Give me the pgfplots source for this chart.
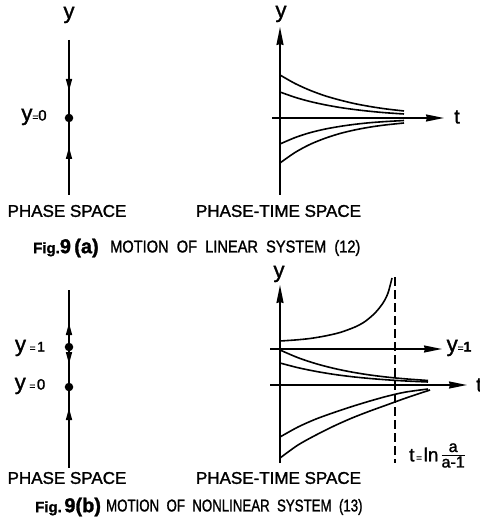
\documentclass[border=0pt]{standalone}
\usepackage{pgfplots}
\pgfplotsset{compat=1.18}
\usepackage{fontspec}
\setmainfont{Liberation Sans}[FakeBold=1.5]
\usetikzlibrary{arrows.meta}
\newcommand\fs[1]{\fontsize{#1}{#1}\selectfont}
\tikzset{
  ar/.style={-{Stealth[length=18pt,width=7pt,inset=1pt]}},
  mid/.style={-{Triangle[length=12pt,width=6pt]}},
}

\begin{document}
\begin{tikzpicture}
\begin{axis}[
  scale only axis, width=479pt, height=529pt,
  xmin=0, xmax=479, ymin=0, ymax=529, y dir=reverse,
  axis lines=none, clip=false,
  every axis plot/.append style={black, line width=1.6pt},
]
% ---------- (a) phase space ----------
\addplot[no marks] coordinates {(69,40) (69,195)};
\addplot[mid] coordinates {(69,74) (69,91)};
\addplot[mid] coordinates {(69,164) (69,147)};
\addplot[only marks, mark=*, mark size=3.4pt] coordinates {(69,118)};
\node at (69,15) {\fs{22}y};
\node at (34,117) {\fs{22}y\fs{10}=\fs{15}0};
\node at (67,211) {\fs{17}PHASE SPACE};

% ---------- (a) phase-time space ----------
\addplot[ar] coordinates {(280,195) (280,27)};
\addplot[ar] coordinates {(272,118) (444,118)};
\addplot[smooth] coordinates {(280,75) (295,83.5) (310,90.3) (325,95.8) (340,100.1) (355,103.7) (370,106.5) (385,108.8) (404,111)};
\addplot[smooth] coordinates {(280,92) (295,97.3) (310,101.5) (325,104.8) (340,107.5) (355,109.6) (370,111.3) (385,112.7) (404,114)};
\addplot[smooth] coordinates {(280,144) (295,137.6) (310,132.7) (325,129.1) (340,126.4) (355,124.3) (370,122.7) (385,121.6) (404,120.5)};
\addplot[smooth] coordinates {(280,163) (295,152.5) (310,144.4) (325,138.3) (340,133.5) (355,129.9) (370,127.1) (385,125) (404,123)};
\node at (281,14) {\fs{22}y};
\node at (457,117) {\fs{20}t};
\node at (278.5,211) {\fs{17}PHASE-TIME SPACE};

\node[anchor=west, inner sep=0pt] at (33,248) {\bfseries\fs{15}Fig.\fs{20}9\,(a)};
\node[anchor=west, inner sep=0pt, xscale=0.86] at (110,248) {\fs{17}MOTION\ \ OF\ \ LINEAR\ \ SYSTEM\ \ (12)};

% ---------- (b) phase space ----------
\addplot[no marks] coordinates {(69,290) (69,468)};
\addplot[mid] coordinates {(69,340) (69,323)};
\addplot[mid] coordinates {(69,351) (69,364)};
\addplot[mid] coordinates {(69,425) (69,408)};
\addplot[only marks, mark=*, mark size=3.4pt] coordinates {(69,347) (69,387)};
\node at (30,348) {\fs{22}y\,\fs{10}=\,\fs{14}1};
\node at (30,386) {\fs{22}y\,\fs{10}=\,\fs{15}0};
\node at (67,478) {\fs{17}PHASE SPACE};

% ---------- (b) phase-time space ----------
\addplot[ar] coordinates {(280,463) (280,285)};
\addplot[ar] coordinates {(270,349) (442,349)};
\addplot[ar] coordinates {(270,385) (467,385)};
\addplot[line width=1.3pt, dash pattern=on 9pt off 4pt] coordinates {(395,277) (395,463)};
% solution above y=1 escapes in finite time
\addplot[smooth] coordinates {(280,341) (295,340) (310,338.5) (325,336) (340,332.5) (355,327) (365,321.5) (375,313) (383,303) (388,293) (392,278)};
% solutions below y=1 decay to y=0
\addplot[smooth] coordinates {(280,350) (298,357.7) (316,363.7) (334,368.4) (352,372.1) (370,375) (388,377.2) (406,378.9) (428,380.5)};
\addplot[smooth] coordinates {(280,363) (298,367.7) (316,371.4) (334,374.4) (352,376.7) (370,378.5) (388,379.9) (406,381) (428,382)};
\addplot[smooth] coordinates {(280,437) (298,427) (316,419) (334,412.5) (352,406.5) (370,401) (388,396) (406,392) (428,389)};
\addplot[smooth] coordinates {(280,458) (298,445) (316,435) (334,426) (352,418) (370,411) (388,404.5) (406,398) (430,390)};
\node at (279,274) {\fs{22}y};
\node at (459,348) {\fs{22}y\fs{10}=\bfseries\fs{14}1};
\node at (479,385) {\fs{20}t};
\node[anchor=west, inner sep=1pt] at (408,457) {\fs{19}t\fs{10}\,=\,\fs{19}ln\,%
  \fs{16}\renewcommand\arraystretch{0.85}\setlength\tabcolsep{0pt}%
  \begin{tabular}[c]{c}a\\[-1pt]\hline\rule{0pt}{12pt}a-1\end{tabular}};
\node at (278.5,478) {\fs{17}PHASE-TIME SPACE};

\node[anchor=west, inner sep=0pt] at (35,507) {\bfseries\fs{15}Fig.\,\fs{20}9(b)};
\node[anchor=west, inner sep=0pt, xscale=0.78] at (106,507) {\fs{17}MOTION\ \ OF\ \ NONLINEAR\ \ SYSTEM\ \ (13)};
\end{axis}
\pgfresetboundingbox
\path (current axis.south west) rectangle (current axis.north east);
\end{tikzpicture}
\end{document}
